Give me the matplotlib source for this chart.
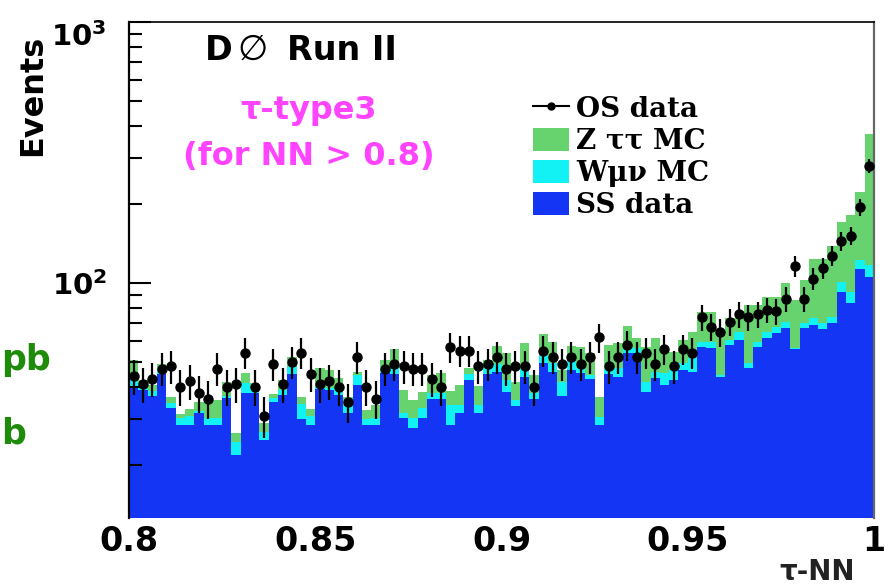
import numpy as np
import matplotlib.pyplot as plt
from matplotlib.lines import Line2D
from matplotlib.patches import Patch
from matplotlib.ticker import LogLocator, NullFormatter
from matplotlib.transforms import ScaledTranslation

# tau-NN histogram, 80 bins between 0.8 and 1
nn_edges = np.linspace(0.8, 1.0, 81)

ss_data = [39.6, 38.9, 36.9, 44.8, 33.2, 28.5, 28.6, 31.7, 28.5, 28.5,
           36.3, 21.9, 38.0, 38.0, 25.0, 35.0, 37.3, 44.8, 30.0, 28.6,
           39.3, 39.0, 37.3, 31.7, 40.6, 28.6, 28.6, 45.2, 44.8, 30.4,
           27.8, 30.4, 35.9, 35.9, 28.6, 31.7, 42.5, 31.7, 44.8, 45.6,
           38.3, 33.8, 43.6, 35.9, 49.4, 45.6, 36.9, 46.4, 45.2, 42.9,
           28.6, 45.0, 43.6, 54.0, 54.0, 38.3, 43.3, 40.6, 42.5, 46.4,
           45.7, 57.0, 56.2, 43.8, 57.9, 60.5, 47.1, 57.0, 61.4, 64.3,
           67.0, 55.7, 67.0, 69.1, 66.5, 70.1, 92.6, 83.6, 112.8, 105.7]

w_mc = [3.3, 2.1, 1.7, 2.0, 1.5, 2.0, 2.4, 0.5, 2.0, 2.0,
        0.7, 2.7, 3.4, 1.6, 1.9, 1.3, 1.6, 3.0, 4.5, 2.4,
        0.6, 0.6, 2.3, 2.1, 3.8, 1.4, 1.9, 2.6, 3.7, 1.3,
        2.6, 2.8, 2.1, 2.1, 5.4, 2.3, 2.3, 2.3, 2.4, 3.4,
        4.2, 1.8, 4.2, 2.1, 3.5, 3.8, 4.9, 4.3, 2.0, 1.5,
        2.1, 2.0, 3.6, 2.4, 2.4, 3.5, 2.3, 4.6, 3.9, 2.8,
        5.8, 2.6, 3.4, 0.7, 2.6, 4.6, 2.1, 2.6, 3.7, 3.7,
        4.0, 0.5, 3.1, 4.1, 4.0, 4.2, 8.6, 9.0, 9.7, 11.5]

z_mc = [7.7, 1.5, 2.0, 2.2, 1.9, 1.0, 2.0, 2.8, 5.0, 5.0,
        4.8, 2.1, 3.8, 1.8, 2.2, 1.2, 3.6, 4.2, 2.1, 2.0,
        7.3, 6.8, 3.7, 2.8, 1.2, 2.5, 3.5, 2.8, 7.3, 7.2,
        5.2, 5.1, 6.4, 7.2, 4.6, 6.6, 2.4, 6.3, 3.4, 8.4,
        11.5, 6.2, 11.0, 6.4, 10.9, 10.0, 4.6, 6.7, 9.7, 9.6,
        5.9, 11.0, 11.6, 12.0, 5.1, 15.1, 15.9, 11.0, 8.1, 11.3,
        13.6, 18.0, 18.0, 21.5, 12.7, 8.1, 33.1, 22.7, 23.3, 20.4,
        29.3, 29.9, 32.6, 50.1, 52.8, 63.7, 70.5, 89.4, 101.1, 254.8]

os_data = [44, 41, 43, 47, 48, 40, 42, 38, 36, 47,
           40, 41, 54, 40, 31, 49, 41, 50, 54, 45,
           41, 42, 40, 35, 52, 40, 36, 47, 49, 48,
           47, 47, 43, 40, 57, 55, 55, 48, 49, 52,
           47, 48, 48, 40, 55, 52, 49, 52, 49, 52,
           62, 48, 52, 58, 52, 54, 49, 56, 48, 56,
           54, 74, 68, 65, 71, 76, 74, 76, 79, 78,
           87, 116, 87, 104, 114, 127, 145, 152, 195, 281]

legend_labels = ['OS data', 'Z ττ MC', 'Wμν MC', 'SS data']
xtick_vals = [0.8, 0.85, 0.9, 0.95, 1.0]
xtick_text = ['0.8', '0.85', '0.9', '0.95', '1']

c_blue = '#1535f5'
c_cyan = '#12f2f5'
c_green = '#66d36e'

plt.rcParams['mathtext.fontset'] = 'dejavusans'
W, H = 888, 586
fig = plt.figure(figsize=(W / 100, H / 100), dpi=100)
ax = fig.add_axes([129 / W, 1 - 518 / H, 745 / W, 496 / H])

ss = np.array(ss_data)
w = np.array(w_mc)
z = np.array(z_mc)
os_ = np.array(os_data, dtype=float)

ax.stairs(ss + w + z, nn_edges, baseline=ss + w, fill=True, color=c_green, lw=0)
ax.stairs(ss + w, nn_edges, baseline=ss, fill=True, color=c_cyan, lw=0)
ax.stairs(ss, nn_edges, baseline=1, fill=True, color=c_blue, lw=0)

centers = 0.5 * (nn_edges[1:] + nn_edges[:-1])
ax.errorbar(centers, os_, yerr=np.sqrt(os_), fmt='o', color='k', ms=6.5,
            elinewidth=1.6, capsize=0, zorder=5)

ax.set_yscale('log')
ax.set_xlim(0.8, 1.0)
ax.set_ylim(12.58, 1000)
ax.set_yticks([100, 1000])
ax.set_yticklabels([r'$\mathbf{10^{2}}$', r'$\mathbf{10^{3}}$'])
ax.yaxis.set_minor_locator(LogLocator(base=10, subs=np.arange(2, 10)))
ax.yaxis.set_minor_formatter(NullFormatter())
ax.tick_params(axis='y', which='major', direction='in', length=16, width=1.5,
               pad=16, labelsize=21, right=False)
ax.tick_params(axis='y', which='minor', direction='in', length=9.5, width=1.5, right=False)
ax.set_xticks(xtick_vals)
ax.set_xticklabels(xtick_text, fontweight='bold')
ax.tick_params(axis='x', which='both', length=0, pad=5, labelsize=24)

# the top label sits a bit under its tick, as in the original
top_lab = ax.get_yticklabels()[1]
top_lab.set_transform(top_lab.get_transform() + ScaledTranslation(0, -0.12, fig.dpi_scale_trans))

ax.spines['bottom'].set_visible(False)
ax.spines['left'].set_linewidth(1.6)
ax.spines['top'].set_linewidth(1.2)
ax.spines['right'].set_linewidth(1.6)
ax.spines['right'].set_color('#666666')

handles = [Line2D([], [], color='k', marker='o', ms=5, lw=1.5),
           Patch(facecolor=c_green), Patch(facecolor=c_cyan), Patch(facecolor=c_blue)]
ax.legend(handles, legend_labels, loc='upper left', bbox_to_anchor=(0.542, 0.852),
          frameon=False, prop={'family': 'DejaVu Serif', 'weight': 'bold', 'size': 20},
          handlelength=1.3, handleheight=0.9, handletextpad=0.25,
          labelspacing=0.18, borderpad=0, borderaxespad=0)

def fpos(x, y):
    return x / W, 1 - y / H

fig.text(*fpos(33, 95), 'Events', rotation=90, ha='center', va='center',
         fontsize=23, fontweight='bold')
fig.text(*fpos(205, 50), 'D', ha='left', va='center', fontsize=24, fontweight='bold')
fig.text(*fpos(253, 50), '∅', ha='center', va='center', fontsize=25)
fig.text(*fpos(287, 50), 'Run II', ha='left', va='center', fontsize=24, fontweight='bold')
fig.text(*fpos(309, 110), 'τ-type3', ha='center', va='center', fontsize=23,
         fontweight='bold', color='#ff44ff')
fig.text(*fpos(309, 156), '(for NN > 0.8)', ha='center', va='center', fontsize=23,
         fontweight='bold', color='#ff44ff')
fig.text(*fpos(1, 360), 'pb', ha='left', va='center', fontsize=25,
         fontweight='bold', color='#1e8c0a')
fig.text(*fpos(1, 433), 'b', ha='left', va='center', fontsize=25,
         fontweight='bold', color='#1e8c0a')
fig.text(*fpos(855, 572), 'τ-NN', ha='right', va='center', fontsize=20,
         fontweight='bold', color='#222222')

fig.savefig('out.png', dpi=100)
